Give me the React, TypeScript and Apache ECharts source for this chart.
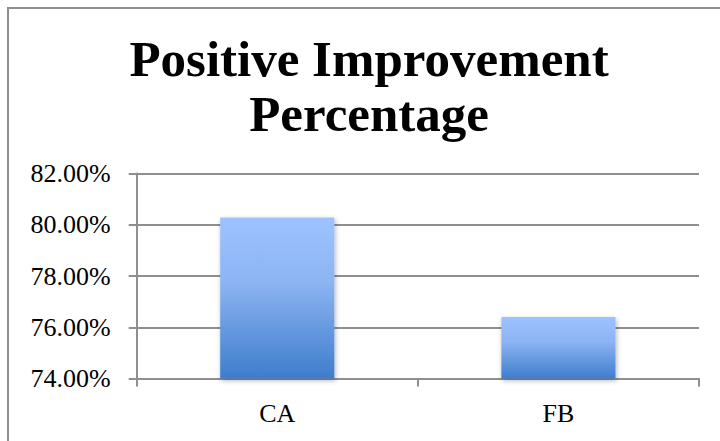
import React, { useEffect, useRef } from "react";
import * as echarts from "echarts";

const titleLines = ["Positive Improvement", "Percentage"];
const categories = ["CA", "FB"];
const values = [80.28, 76.4];
const yMin = 74;
const yMax = 82;
const yStep = 2;

export default function App() {
  const ref = useRef<HTMLDivElement>(null);
  useEffect(() => {
    if (!ref.current) return;
    const chart = echarts.init(ref.current, null, { renderer: "svg" });
    const axisGrey = "#8f8f8f";
    chart.setOption({
      animation: false,
      backgroundColor: "#ffffff",
      title: {
        text: titleLines.join("\n"),
        left: 360,
        textAlign: "center",
        top: 22,
        padding: 0,
        textStyle: {
          fontFamily: "Liberation Serif",
          fontWeight: "bold",
          fontSize: 51,
          lineHeight: 55,
          color: "#000",
        },
      },
      grid: { left: 127.7, right: 21, top: 164.5, bottom: 62.5, containLabel: false },
      xAxis: {
        type: "category",
        data: categories,
        axisLine: { show: true, lineStyle: { color: axisGrey, width: 2 } },
        axisTick: { show: true, length: 8, lineStyle: { color: axisGrey, width: 2 } },
        axisLabel: {
          margin: 22,
          color: "#000",
          fontFamily: "Liberation Serif",
          fontSize: 26,
        },
        splitLine: { show: false },
      },
      yAxis: {
        type: "value",
        min: yMin,
        max: yMax,
        interval: yStep,
        axisLine: { show: true, lineStyle: { color: axisGrey, width: 2 } },
        axisTick: { show: true, length: 8, lineStyle: { color: axisGrey, width: 2 } },
        axisLabel: {
          margin: 26,
          color: "#000",
          fontFamily: "Liberation Serif",
          fontSize: 26,
          formatter: (v: number) => v.toFixed(2) + "%",
        },
        splitLine: { show: true, lineStyle: { color: axisGrey, width: 2 } },
      },
      series: [
        {
          type: "bar",
          data: values,
          barWidth: "40.6%",
          itemStyle: {
            color: new echarts.graphic.LinearGradient(0, 0, 0, 1, [
              { offset: 0, color: "#9dc3ff" },
              { offset: 0.4, color: "#8db4f3" },
              { offset: 1, color: "#3e7dcc" },
            ]),
            shadowBlur: 5,
            shadowColor: "rgba(0,0,0,0.3)",
            shadowOffsetX: 1,
            shadowOffsetY: 2,
          },
        },
      ],
    });
    return () => chart.dispose();
  }, []);

  return (
    <div
      style={{
        position: "fixed",
        left: 7,
        top: 7,
        width: 713,
        height: 434,
        borderLeft: "2px solid #8e8e8e",
        borderTop: "2px solid #8e8e8e",
        boxSizing: "border-box",
        background: "#fff",
      }}
    >
      <div ref={ref} style={{ width: 711, height: 432 }} />
    </div>
  );
}
